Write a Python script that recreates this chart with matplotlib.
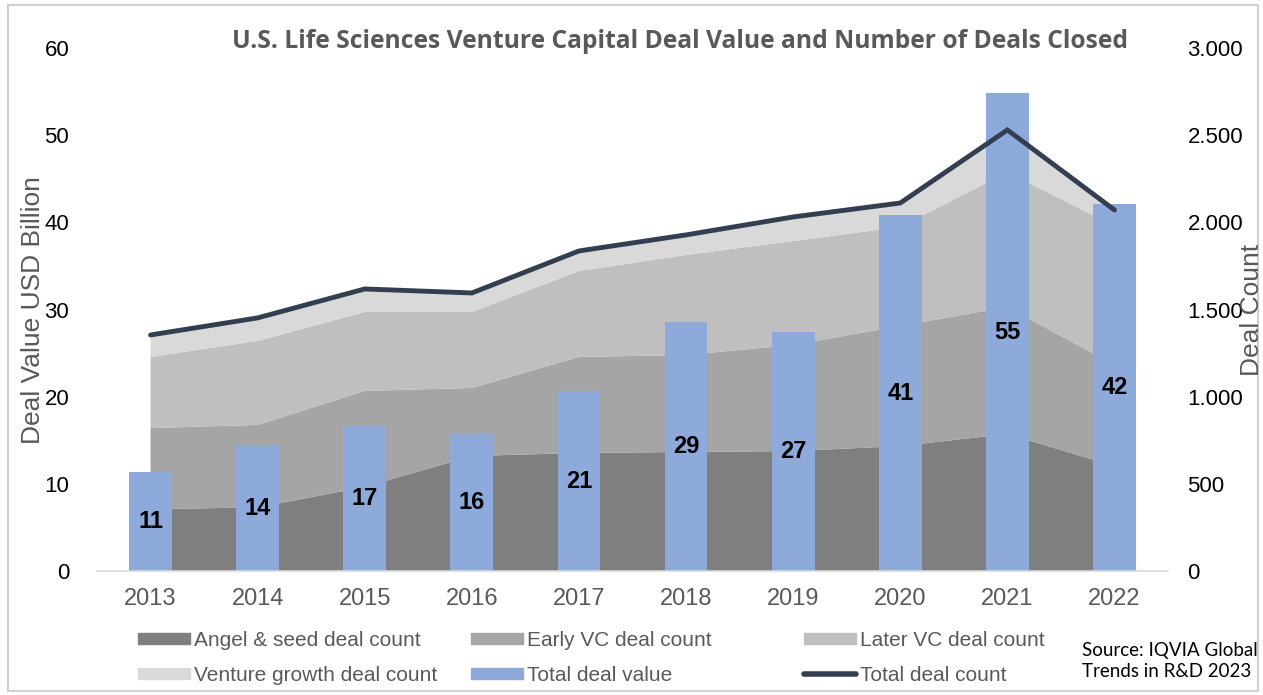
import matplotlib.pyplot as plt
import numpy as np
from matplotlib.patches import Rectangle, Patch
from matplotlib.lines import Line2D
from matplotlib.ticker import FuncFormatter

plt.rcParams['font.family'] = ['Liberation Sans', 'DejaVu Sans']

years = ["2013", "2014", "2015", "2016", "2017", "2018", "2019", "2020", "2021", "2022"]
# deal value (USD billion), left axis
deal_value = [11.4, 14.4, 16.6, 15.7, 20.6, 28.6, 27.4, 40.8, 54.8, 42.1]
# deal counts by stage, right axis
angel_seed   = [355, 365, 482, 660, 677, 683, 688, 717, 786, 602]
early_vc     = [465, 473, 551, 390, 551, 556, 609, 689, 729, 580]
later_vc     = [408, 482, 453, 436, 493, 574, 596, 568, 774, 797]
venture_grow = [126, 132, 132, 109, 115, 115, 138, 137, 241, 92]
total_count  = [1354, 1452, 1618, 1595, 1836, 1928, 2031, 2111, 2530, 2071]

c_angel, c_early, c_later, c_growth = '#7F7F7F', '#A5A5A5', '#BFBFBF', '#D9D9D9'
c_bar, c_line = '#8EAADB', '#333F50'
grey_txt = '#595959'

fig = plt.figure(figsize=(12.63, 6.95), dpi=100)
ax = fig.add_axes([0.0768, 0.1784, 0.848, 0.7525])
x = np.arange(len(years))

# areas on the right (count) axis, behind
ax2 = ax.twinx()
ax2.stackplot(x, angel_seed, early_vc, later_vc, venture_grow,
              colors=[c_angel, c_early, c_later, c_growth], linewidth=0)
ax2.set_ylim(0, 3000)
ax2.set_yticks(range(0, 3001, 500))
ax2.yaxis.set_major_formatter(FuncFormatter(lambda v, p: f'{int(v):,}'.replace(',', '.')))
ax2.tick_params(axis='y', length=0, pad=14, labelsize=16)
ax2.set_zorder(1)

# bars on the value axis
ax.set_zorder(2)
ax.patch.set_visible(False)
bars = ax.bar(x, deal_value, width=0.4, color=c_bar)
ax.bar_label(bars, labels=[f'{v:.0f}' for v in deal_value], label_type='center',
             fontsize=17, fontweight='bold', color='black')
ax.set_ylim(0, 60)
ax.set_xlim(-0.5, len(years) - 0.5)
ax.set_yticks(range(0, 61, 10))
ax.set_xticks(x, years)
ax.tick_params(axis='y', length=0, pad=20, labelsize=16)
ax.tick_params(axis='x', length=0, pad=12, labelsize=17, labelcolor=grey_txt)

fig.text(33 / 1263, 1 - 310 / 695, 'Deal Value USD Billion', rotation=90,
         ha='center', va='center', fontsize=19, color=grey_txt)
fig.text(1252 / 1263, 1 - 310 / 695, 'Deal Count', rotation=90,
         ha='center', va='center', fontsize=19, color=grey_txt)

# total line on top
ax3 = ax.twinx()
ax3.set_zorder(3)
ax3.plot(x, total_count, color=c_line, linewidth=3.5, solid_capstyle='round',
         solid_joinstyle='miter')
ax3.set_ylim(0, 3000)
ax3.axis('off')

for a in (ax, ax2, ax3):
    for s in a.spines.values():
        s.set_visible(False)
ax.spines['bottom'].set_visible(True)
ax.spines['bottom'].set_color('#D9D9D9')
ax.spines['bottom'].set_linewidth(1.2)

fig.text(680 / 1263, 1 - 42 / 695, 'U.S. Life Sciences Venture Capital Deal Value and Number of Deals Closed',
         ha='center', va='center', fontsize=17.7, fontweight='bold', color=grey_txt,
         family=['Open Sans', 'DejaVu Sans'])

# legend, three columns
cols = [
    [(Patch(color=c_angel), 'Angel & seed deal count'),
     (Patch(color=c_growth), 'Venture growth deal count')],
    [(Patch(color=c_early), 'Early VC deal count'),
     (Patch(color=c_bar), 'Total deal value')],
    [(Patch(color=c_later), 'Later VC deal count'),
     (Line2D([], [], color=c_line, linewidth=4, solid_capstyle='round'), 'Total deal count')],
]
for i, col in enumerate(cols):
    leg = fig.legend([h for h, _ in col], [t for _, t in col],
                     loc='center left', bbox_to_anchor=((138 + 333 * i) / 1263, 1 - 658 / 695),
                     frameon=False, fontsize=15, handlelength=2.5, handleheight=0.45,
                     handletextpad=0.2, labelspacing=0.75, borderaxespad=0, borderpad=0)
    for t in leg.get_texts():
        t.set_color(grey_txt)

fig.text(1082 / 1263, 1 - 661 / 695, 'Source: IQVIA Global\nTrends in R&D 2023',
         ha='left', va='center', fontsize=13.5, linespacing=1.35,
         family=['Lato', 'DejaVu Sans'])

fig.patches.append(Rectangle((8 / 1263, 4 / 695), 1250 / 1263, 686 / 695,
                             transform=fig.transFigure, fill=False,
                             edgecolor='#D0D0D0', linewidth=1.5))

fig.savefig('out.png', dpi=100)
